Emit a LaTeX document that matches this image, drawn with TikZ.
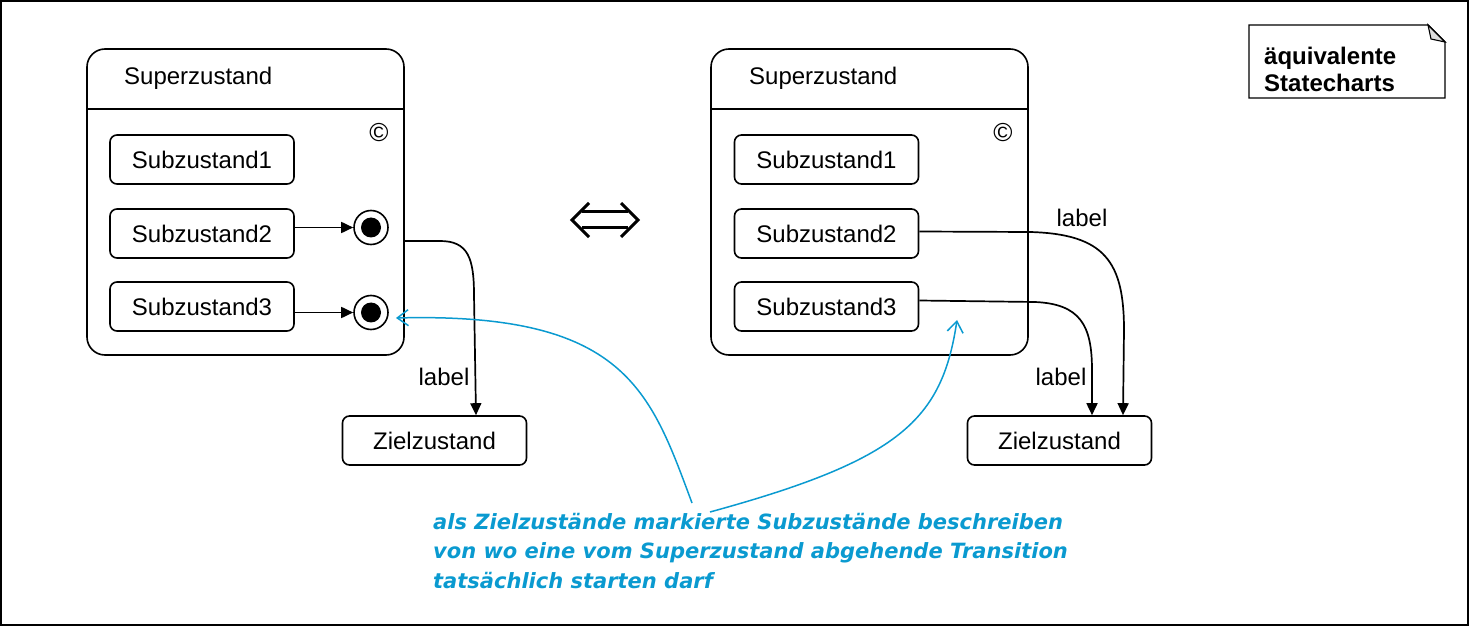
\documentclass[tikz,border=0pt]{standalone}
\usepackage{fontspec}
\setmainfont{Liberation Sans}
\newfontfamily\notefont{DejaVu Sans}
\usetikzlibrary{arrows.meta}
\definecolor{noteblue}{HTML}{0A9AD0}
\definecolor{foldgray}{HTML}{DDDDDD}
\tikzset{
  txt/.style={font=\fontsize{24}{28}\selectfont, inner sep=0pt},
  superbox/.style={draw, line width=1.6pt, rounded corners=18pt, minimum width=317pt, minimum height=306pt, inner sep=0pt},
  subbox/.style={draw, line width=1.6pt, rounded corners=7pt, minimum width=184pt, minimum height=49pt, txt},
  trans/.style={line width=1.7pt, -{Triangle[length=12pt,width=11pt]}},
  bluearr/.style={draw=noteblue, line width=1.5pt, -{Straight Barb[length=11pt,width=16pt,line width=1.5pt]}},
  finalouter/.style={circle, draw, line width=1.6pt, minimum size=34pt, inner sep=0pt},
  finalinner/.style={circle, fill, minimum size=20pt, inner sep=0pt},
}
\begin{document}
\begin{tikzpicture}[x=1pt,y=-1pt]
\useasboundingbox (0,0) rectangle (1470,628);
\draw[line width=1.4pt] (1,1) rectangle (1468,625);

% ---------- left statechart ----------
\node[superbox] (S1) at (245.5,202) {};
\draw[line width=1.6pt] (87,109) -- (404,109);
\node[txt, anchor=west] (T1) at (124,78) {Superzustand};
\node[font=\fontsize{26}{28}\selectfont, inner sep=0pt] (C1) at (379,133) {©};
\node[subbox] (A1) at (202,159.5) {Subzustand1};
\node[subbox] (A2) at (202,233.5) {Subzustand2};
\node[subbox] (A3) at (202,306.5) {Subzustand3};
\node[finalouter] (F2) at (371,227.5) {};
\node[finalinner] (F2i) at (371,227.5) {};
\node[finalouter] (F3) at (371,312.5) {};
\node[finalinner] (F3i) at (371,312.5) {};
\draw[trans] (A2.east |- F2) -- (F2.west);
\draw[trans] (A3.east |- F3) -- (F3.west);
\node[subbox] (Z1) at (434.5,440.5) {Zielzustand};
\coordinate (L1s) at ([yshift=-39pt]S1.east);
\draw[trans] (L1s) -- (440,241) .. controls (468,241) and (474,258) .. (474,295) -- ([xshift=41.5pt]Z1.north);
\node[txt] (lab1) at (444,377) {label};

% ---------- equivalence symbol ----------
\draw[line width=3pt] (582,212) -- (628,212) (582,228) -- (628,228);
\draw[line width=3pt, line join=miter] (589,203) -- (572,220) -- (589,237);
\draw[line width=3pt, line join=miter] (621,203) -- (638,220) -- (621,237);

% ---------- right statechart ----------
\node[superbox] (S2) at (869.5,202) {};
\draw[line width=1.6pt] (711,109) -- (1028,109);
\node[txt, anchor=west] (T2) at (749,78) {Superzustand};
\node[font=\fontsize{26}{28}\selectfont, inner sep=0pt] (C2) at (1003,133) {©};
\node[subbox] (B1) at (826.5,159.5) {Subzustand1};
\node[subbox] (B2) at (826.5,233.5) {Subzustand2};
\node[subbox] (B3) at (826.5,306.5) {Subzustand3};
\node[subbox] (Z2) at (1059.5,440.5) {Zielzustand};
\draw[trans] ([yshift=2pt]B2.east) -- (1030,232) .. controls (1105,234) and (1124,262) .. (1124,330) -- ([xshift=63.5pt]Z2.north);
\draw[trans] ([yshift=6pt]B3.east) -- (1035,302) .. controls (1080,304) and (1092,325) .. (1092,370) -- ([xshift=32.5pt]Z2.north);
\node[txt] (lab2) at (1082,218) {label};
\node[txt] (lab3) at (1061,377) {label};

% ---------- note ----------
\draw[line width=1.4pt, fill=white] (1249,25) -- (1428,25) -- (1445,42) -- (1445,98) -- (1249,98) -- cycle;
\draw[line width=1.1pt, fill=foldgray] (1428,25) -- (1431,39) -- (1445,42) -- cycle;
\node[font=\bfseries\fontsize{24}{27}\selectfont, align=left, anchor=north west, inner sep=0pt] (N) at (1264,47) {äquivalente\\Statecharts};

% ---------- blue annotation ----------
\node[font=\notefont\bfseries\itshape\fontsize{21}{29.5}\selectfont, text=noteblue, align=left, anchor=north west, inner sep=0pt] (K) at (433,513) {als Zielzustände markierte Subzustände beschreiben\\von wo eine vom Superzustand abgehende Transition\\tatsächlich starten darf};
\coordinate (K1) at (692,503);
\coordinate (K2) at (710,512);
\draw[bluearr] (K1) .. controls (650,390) and (625,312) .. (396,318);
\draw[bluearr] (K2) .. controls (900,460) and (942,420) .. (957,320);
\end{tikzpicture}
\end{document}
